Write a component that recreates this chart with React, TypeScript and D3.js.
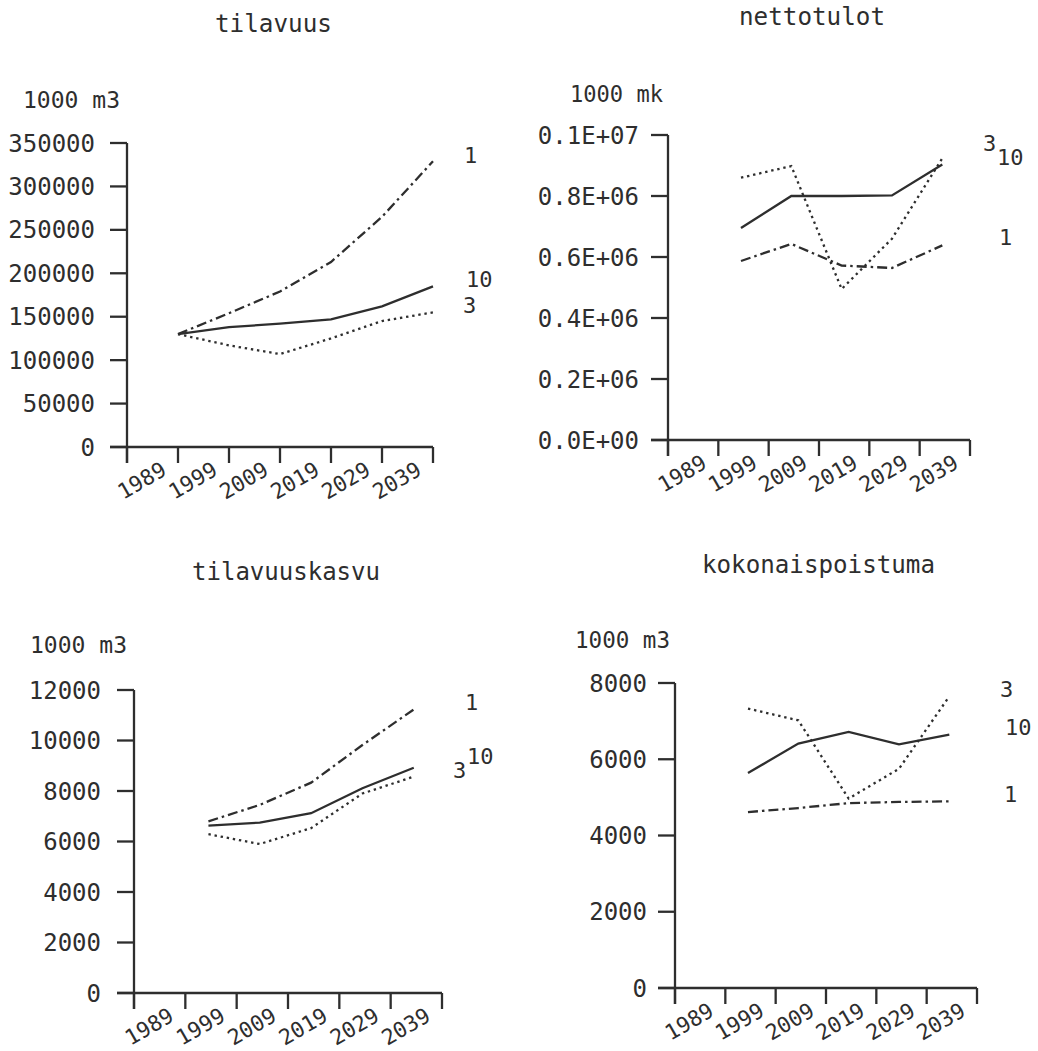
import React from 'react';
import * as d3 from 'd3';

// ---------- data ----------
const yearsFull = [1989, 1999, 2009, 2019, 2029, 2039];
const yearsMid = [1993.5, 2003.5, 2013.5, 2023.5, 2033.5];
const xTickYears = [1979, 1989, 1999, 2009, 2019, 2029, 2039];
const xTickLabels = ['', '1989', '1999', '2009', '2019', '2029', '2039'];

const tilavuus1 = [130000, 154000, 179000, 213000, 265000, 329000];
const tilavuus10 = [130000, 138000, 142000, 147000, 162000, 185000];
const tilavuus3 = [130000, 117000, 107000, 125000, 145000, 155000];

const netto10 = [695000, 800000, 800000, 802000, 903000];
const netto3 = [860000, 898000, 495000, 660000, 924000];
const netto1 = [587000, 643000, 572000, 564000, 638000];

const kasvu1 = [6800, 7450, 8330, 9820, 11230];
const kasvu10 = [6630, 6750, 7120, 8110, 8920];
const kasvu3 = [6290, 5900, 6530, 7900, 8570];

const poist10 = [5640, 6410, 6715, 6390, 6645];
const poist3 = [7330, 7020, 4970, 5750, 7650];
const poist1 = [4615, 4720, 4850, 4880, 4895];

const ticksTilavuus = [0, 50000, 100000, 150000, 200000, 250000, 300000, 350000];
const ticksNetto = [0, 200000, 400000, 600000, 800000, 1000000];
const ticksNettoLabels = ['0.0E+00', '0.2E+06', '0.4E+06', '0.6E+06', '0.8E+06', '0.1E+07'];
const ticksKasvu = [0, 2000, 4000, 6000, 8000, 10000, 12000];
const ticksPoist = [0, 2000, 4000, 6000, 8000];

// ---------- styles ----------
const INK = '#2e2e2e';
const DASH: Record<string, string | undefined> = {
  '1': '10,4,2.5,4',
  '3': '2.4,3.8',
  '10': undefined,
};
const FONT = '"DejaVu Sans Mono", "Liberation Mono", monospace';

type Panel = {
  title: string; titleX: number; titleY: number; titleW: number;
  unit: string; unitX: number; unitY: number; unitW: number;
  axisX: number; xEnd: number; y0: number; yTop: number; yMax: number;
  labelGap: number;
  ticks: number[]; tickLabels: string[];
  xs: number[];
  series: { name: string; values: number[] }[];
  labels: { t: string; x: number; y: number }[];
};

const panels: Panel[] = [
  {
    title: 'tilavuus', titleX: 215, titleY: 32, titleW: 117,
    unit: '1000 m3', unitX: 23, unitY: 108, unitW: 97,
    axisX: 127, xEnd: 433, y0: 447, yTop: 143, yMax: 350000, labelGap: 32,
    ticks: ticksTilavuus, tickLabels: ticksTilavuus.map(String),
    xs: yearsFull,
    series: [
      { name: '1', values: tilavuus1 },
      { name: '10', values: tilavuus10 },
      { name: '3', values: tilavuus3 },
    ],
    labels: [
      { t: '1', x: 464, y: 163 },
      { t: '10', x: 466, y: 287 },
      { t: '3', x: 463, y: 313 },
    ],
  },
  {
    title: 'nettotulot', titleX: 739, titleY: 25, titleW: 146,
    unit: '1000 mk', unitX: 570, unitY: 102, unitW: 93,
    axisX: 668, xEnd: 970, y0: 440, yTop: 135, yMax: 1000000, labelGap: 29,
    ticks: ticksNetto, tickLabels: ticksNettoLabels,
    xs: yearsMid,
    series: [
      { name: '10', values: netto10 },
      { name: '3', values: netto3 },
      { name: '1', values: netto1 },
    ],
    labels: [
      { t: '3', x: 983, y: 151 },
      { t: '10', x: 997, y: 165 },
      { t: '1', x: 999, y: 245 },
    ],
  },
  {
    title: 'tilavuuskasvu', titleX: 192, titleY: 580, titleW: 188,
    unit: '1000 m3', unitX: 30, unitY: 653, unitW: 97,
    axisX: 134, xEnd: 442, y0: 993, yTop: 690, yMax: 12000, labelGap: 33,
    ticks: ticksKasvu, tickLabels: ticksKasvu.map(String),
    xs: yearsMid,
    series: [
      { name: '1', values: kasvu1 },
      { name: '10', values: kasvu10 },
      { name: '3', values: kasvu3 },
    ],
    labels: [
      { t: '1', x: 465, y: 710 },
      { t: '10', x: 467, y: 764 },
      { t: '3', x: 453, y: 778 },
    ],
  },
  {
    title: 'kokonaispoistuma', titleX: 702, titleY: 573, titleW: 233,
    unit: '1000 m3', unitX: 575, unitY: 648, unitW: 95,
    axisX: 675, xEnd: 977, y0: 988, yTop: 683, yMax: 8000, labelGap: 28,
    ticks: ticksPoist, tickLabels: ticksPoist.map(String),
    xs: yearsMid,
    series: [
      { name: '10', values: poist10 },
      { name: '3', values: poist3 },
      { name: '1', values: poist1 },
    ],
    labels: [
      { t: '3', x: 1000, y: 697 },
      { t: '10', x: 1005, y: 735 },
      { t: '1', x: 1004, y: 802 },
    ],
  },
];

const TICK = 17;

function PanelView({ p }: { p: Panel }) {
  const x = d3.scaleLinear().domain([1979, 2039]).range([p.axisX, p.xEnd]);
  const y = d3.scaleLinear().domain([0, p.yMax]).range([p.y0, p.yTop]);
  const line = d3.line<number>()
    .x((_, i) => x(p.xs[i]))
    .y((d) => y(d));
  return (
    <g>
      <text x={p.titleX} y={p.titleY} fontSize={25} fontFamily={FONT} fill={INK}
        textLength={p.titleW} lengthAdjust="spacingAndGlyphs">{p.title}</text>
      <text x={p.unitX} y={p.unitY} fontSize={23} fontFamily={FONT} fill={INK}
        textLength={p.unitW} lengthAdjust="spacingAndGlyphs">{p.unit}</text>
      {/* y axis */}
      <line x1={p.axisX} x2={p.axisX} y1={y(p.yMax)} y2={p.y0 + TICK - 1}
        stroke={INK} strokeWidth={2.3} />
      {/* x axis */}
      <line x1={p.axisX - TICK} x2={x(2039)} y1={p.y0} y2={p.y0} stroke={INK} strokeWidth={2.3} />
      {p.ticks.map((t, i) => (
        <g key={'y' + t}>
          <line x1={p.axisX - TICK} x2={p.axisX} y1={y(t)} y2={y(t)} stroke={INK} strokeWidth={2.3} />
          <text x={p.axisX - p.labelGap} y={y(t)} dy="0.36em" textAnchor="end"
            fontSize={24} fontFamily={FONT} fill={INK}>{p.tickLabels[i]}</text>
        </g>
      ))}
      {xTickYears.map((yr, i) => (
        <g key={'x' + yr}>
          <line x1={x(yr)} x2={x(yr)} y1={p.y0} y2={p.y0 + TICK - 1} stroke={INK} strokeWidth={2.3} />
          {xTickLabels[i] && (
            <text transform={`translate(${x(yr) - 10},${p.y0 + 27}) rotate(-30)`}
              textAnchor="end" fontSize={21.5} fontFamily={FONT} fill={INK}>{xTickLabels[i]}</text>
          )}
        </g>
      ))}
      {p.series.map((s) => (
        <path key={s.name} d={line(s.values) || ''} fill="none" stroke={INK}
          strokeWidth={2.3} strokeDasharray={DASH[s.name]} strokeLinecap="butt" />
      ))}
      {p.labels.map((l, i) => (
        <text key={i} x={l.x} y={l.y} fontSize={22} fontFamily={FONT} fill={INK}>{l.t}</text>
      ))}
    </g>
  );
}

export default function App() {
  return (
    <svg width={1038} height={1051} viewBox="0 0 1038 1051"
      style={{ position: 'absolute', left: 0, top: 0, background: '#fff' }}>
      <rect width={1038} height={1051} fill="#fff" />
      {panels.map((p) => <PanelView key={p.title} p={p} />)}
    </svg>
  );
}
